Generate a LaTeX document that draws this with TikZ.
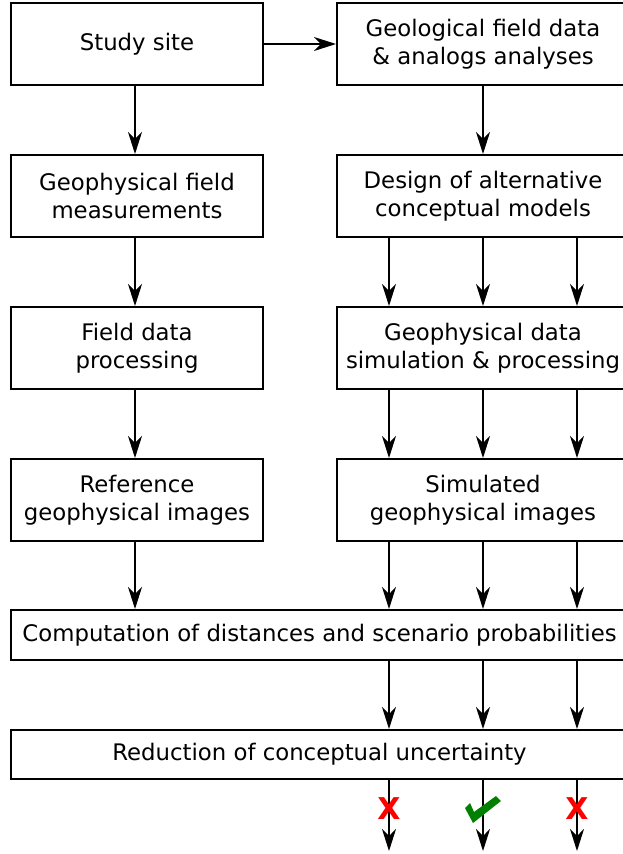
\documentclass[tikz,border=0pt]{standalone}
\usepackage{fontspec}
\setmainfont{DejaVu Sans}
\usetikzlibrary{arrows.meta}
\definecolor{okgreen}{RGB}{0,128,0}
\begin{document}
\begin{tikzpicture}[x=1pt,y=-1pt,
  box/.style={draw, line width=2pt, align=center, inner sep=0pt, font=\fontsize{22.8}{27.5}\selectfont},
  lbox/.style={box, minimum width=252pt, minimum height=82pt},
  rbox/.style={box, minimum width=292pt, minimum height=82pt},
  wbox/.style={box, minimum width=617pt, minimum height=50pt},
  arr/.style={line width=1.5pt, -{Stealth[length=22pt,width=14pt,inset=7pt]}},
  nomark/.style={text=red, font=\fontsize{30}{30}\selectfont\bfseries, inner sep=0pt}]
\useasboundingbox (0,0) rectangle (622,854);
\node[lbox] (ss) at (137,44) {Study site};
\node[rbox] (gf) at (483,44) {Geological field data\\\& analogs analyses};
\node[lbox] (gm) at (137,196) {Geophysical field\\measurements};
\node[rbox] (dm) at (483,196) {Design of alternative\\conceptual models};
\node[lbox] (fp) at (137,348) {Field data\\processing};
\node[rbox] (gs) at (483,348) {Geophysical data\\simulation \& processing};
\node[lbox] (ri) at (137,500) {Reference\\geophysical images};
\node[rbox] (si) at (483,500) {Simulated\\geophysical images};
\node[wbox] (cd) at (319.5,635) {Computation of distances and scenario probabilities};
\node[wbox, minimum height=49pt] (ru) at (319.5,754.5) {Reduction of conceptual uncertainty};
% left column
\draw[arr] (ss.east) -- (gf.west);
\draw[arr] ([xshift=-2pt]ss.south) -- ([xshift=-2pt]gm.north);
\draw[arr] ([xshift=-2pt]gm.south) -- ([xshift=-2pt]fp.north);
\draw[arr] ([xshift=-2pt]fp.south) -- ([xshift=-2pt]ri.north);
\draw[arr] ([xshift=-2pt]ri.south) -- ([xshift=-2pt]ri.south |- cd.north);
% right column
\draw[arr] (gf.south) -- (dm.north);
\foreach \dx/\k in {-94/1,0/2,94/3}{
  \draw[arr] ([xshift=\dx pt]dm.south) -- ([xshift=\dx pt]gs.north);
  \draw[arr] ([xshift=\dx pt]gs.south) -- ([xshift=\dx pt]si.north);
  \draw[arr] ([xshift=\dx pt]si.south) -- ([xshift=\dx pt]si.south |- cd.north);
  \draw[arr] ([xshift=\dx pt]si.south |- cd.south) -- ([xshift=\dx pt]si.south |- ru.north);
  \coordinate (e\k) at ([xshift=\dx pt]si.south |- 0,851);
  \draw[arr] ([xshift=\dx pt]si.south |- ru.south) -- (e\k);
}
\node[nomark] (x1) at (389,809) {X};
\node[nomark] (x3) at (577,809) {X};
\fill[okgreen] (465,808) -- (470,803) -- (474,812) -- (496,796) -- (501,801) -- (473,823) -- cycle;
\end{tikzpicture}
\end{document}
